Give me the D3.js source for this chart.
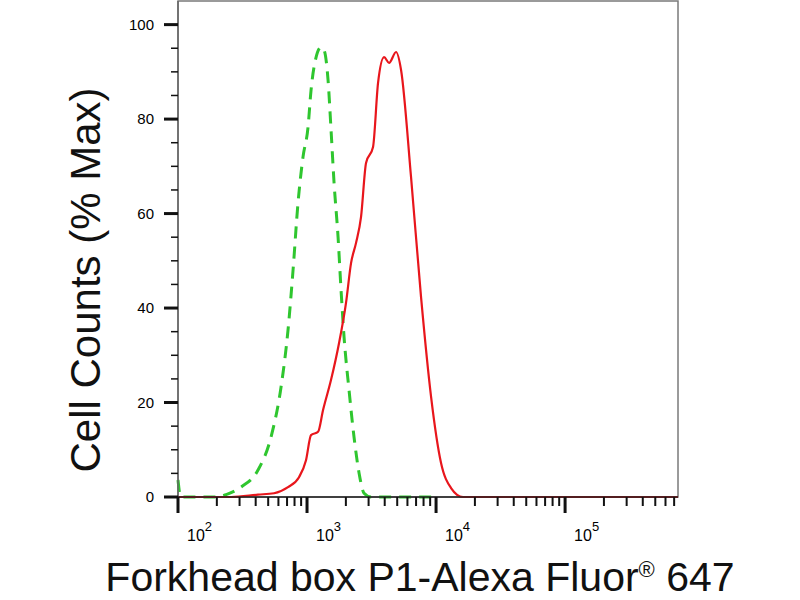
<!DOCTYPE html>
<html>
<head>
<meta charset="utf-8">
<script src="https://cdn.jsdelivr.net/npm/d3@7"></script>
<style>
  body { margin: 0; background: #fff; }
  text { font-family: "Liberation Sans", Arial, sans-serif; }
</style>
</head>
<body>
<div id="chart"></div>
<script>
// Histogram values (intensity, % of max)
var sampleX = [100, 258, 417, 555, 712, 867, 982, 1074, 1218, 1331, 1535, 1771, 2005, 2193, 2398,
               2622, 2866, 3248, 3550, 3954, 4323, 4898, 5355, 6400, 7650, 9150, 10930, 13070,
               16190, 40000, 120000, 400000, 750000];
var sampleY = [0, 0, 0.5, 0.8, 2.1, 4.2, 7.8, 13.1, 13.8, 18.4, 24.8, 32.6, 41.1, 49.5, 53.8,
               59.3, 70.7, 74.1, 87.6, 93.1, 91.9, 94.2, 90.4, 67.7, 42.3, 21.2, 7.2, 1.9,
               0, 0, 0, 0, 0];

var controlX = [100, 105, 197, 236, 308, 417, 526, 629, 712, 779, 851, 931, 1018, 1074, 1133,
                1284, 1355, 1455, 1535, 1620, 1740, 1835, 1936, 2117, 2313, 2530, 2767, 3133, 10000];
var controlY = [3.6, 0, 0, 0.5, 2.1, 5.7, 12.7, 23.3, 35.3, 48.0, 62.2, 72.0, 78.3, 86.1, 91.0,
                95.2, 94.6, 88.3, 77.7, 66.5, 55.0, 43.8, 33.9, 22.6, 12.7, 5.1, 0.8, 0, 0];

var yTicks = [0, 20, 40, 60, 80, 100];
var xDecades = [2, 3, 4, 5];

var xTitle = "Forkhead box P1-Alexa Fluor";
var yTitle = "Cell Counts (% Max)";

var margin = {top: 1, right: 122, bottom: 103, left: 178},
    width = 800 - margin.left - margin.right,
    height = 600 - margin.top - margin.bottom;

var svg = d3.select("#chart").append("svg")
    .attr("width", 800)
    .attr("height", 600);

var g = svg.append("g")
    .attr("transform", "translate(" + margin.left + "," + margin.top + ")");

var x = d3.scaleLog().domain([100, 750000]).range([0, width]);
var y = d3.scaleLinear().domain([0, 105]).range([height, 0]);

// frame
g.append("rect")
    .attr("width", width)
    .attr("height", height)
    .attr("fill", "none")
    .attr("stroke", "#7a7a7a")
    .attr("stroke-width", 1.5);

// curves
function toPoints(xs, ys) {
    return xs.map(function (v, i) { return [v, ys[i]]; });
}

var line = d3.line()
    .x(function (d) { return x(d[0]); })
    .y(function (d) { return y(d[1]); })
    .curve(d3.curveMonotoneX);

g.append("path")
    .datum(toPoints(controlX, controlY))
    .attr("d", line)
    .attr("fill", "none")
    .attr("stroke", "#2fc62f")
    .attr("stroke-width", 3)
    .attr("stroke-dasharray", "12,8");

g.append("path")
    .datum(toPoints(sampleX, sampleY))
    .attr("d", line)
    .attr("fill", "none")
    .attr("stroke", "#e8161c")
    .attr("stroke-width", 2.2);

// y axis: majors every 20, minors every 5
var yMinor = d3.range(0, 101, 5).filter(function (v) { return v % 20 !== 0; });

g.append("line")
    .attr("x1", 0).attr("x2", 0)
    .attr("y1", 0).attr("y2", height)
    .attr("stroke", "#666").attr("stroke-width", 1.5);

g.selectAll(".ymin").data(yMinor).enter().append("line")
    .attr("x1", -7).attr("x2", 0)
    .attr("y1", function (d) { return y(d); })
    .attr("y2", function (d) { return y(d); })
    .attr("stroke", "#111").attr("stroke-width", 1.5);

g.selectAll(".ymaj").data(yTicks).enter().append("line")
    .attr("x1", -14).attr("x2", 0)
    .attr("y1", function (d) { return y(d); })
    .attr("y2", function (d) { return y(d); })
    .attr("stroke", "#111").attr("stroke-width", 3);

g.selectAll(".ylab").data(yTicks).enter().append("text")
    .attr("x", -24)
    .attr("y", function (d) { return y(d); })
    .attr("dy", "0.36em")
    .attr("text-anchor", "end")
    .attr("font-size", 15)
    .attr("fill", "#000")
    .text(function (d) { return d; });

// x axis: decades + 2..9 minors
var xMinor = [];
xDecades.forEach(function (p) {
    d3.range(2, 10).forEach(function (m) {
        var v = m * Math.pow(10, p);
        if (v < x.domain()[1]) xMinor.push(v);
    });
});

g.append("line")
    .attr("x1", 0).attr("x2", width)
    .attr("y1", height).attr("y2", height)
    .attr("stroke", "#222").attr("stroke-width", 1.5);

g.selectAll(".xmin").data(xMinor).enter().append("line")
    .attr("x1", function (d) { return x(d); })
    .attr("x2", function (d) { return x(d); })
    .attr("y1", height).attr("y2", height + 9)
    .attr("stroke", "#111").attr("stroke-width", 2);

g.selectAll(".xmaj").data(xDecades).enter().append("line")
    .attr("x1", function (d) { return x(Math.pow(10, d)); })
    .attr("x2", function (d) { return x(Math.pow(10, d)); })
    .attr("y1", height).attr("y2", height + 16)
    .attr("stroke", "#111").attr("stroke-width", 3);

var xl = g.selectAll(".xlab").data(xDecades).enter().append("text")
    .attr("x", function (d) { return x(Math.pow(10, d)) + 9; })
    .attr("y", height + 44)
    .attr("font-size", 16)
    .attr("fill", "#000");
xl.append("tspan").text("10");
xl.append("tspan")
    .attr("dy", -10)
    .attr("font-size", 13)
    .text(function (d) { return d; });

// titles
var xt = svg.append("text")
    .attr("x", 420)
    .attr("y", 591)
    .attr("text-anchor", "middle")
    .attr("font-size", 41)
    .attr("fill", "#111");
xt.append("tspan").text(xTitle);
xt.append("tspan").attr("dy", -14).attr("font-size", 22).text("\u00AE");
xt.append("tspan").attr("dy", 14).text(" 647");

svg.append("text")
    .attr("transform", "translate(100,280) rotate(-90)")
    .attr("text-anchor", "middle")
    .attr("font-size", 42)
    .attr("fill", "#111")
    .text(yTitle);
</script>
</body>
</html>
